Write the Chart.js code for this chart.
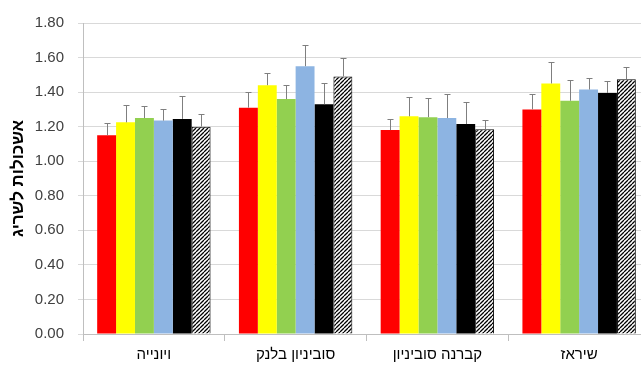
<!DOCTYPE html>
<html>
<head>
<meta charset="utf-8">
<script src="https://cdn.jsdelivr.net/npm/chart.js@4"></script>
<style>
html,body{margin:0;padding:0;background:#fff;overflow:hidden;width:641px;height:367px;}
</style>
</head>
<body>
<canvas id="c" width="650" height="367"></canvas>
<script>
const categories = ['ויונייה', 'סוביניון בלנק', 'קברנה סוביניון', 'שיראז'];
const yTicks = [0, 0.2, 0.4, 0.6, 0.8, 1.0, 1.2, 1.4, 1.6, 1.8];
const s1 = [1.15, 1.31, 1.18, 1.30];
const s2 = [1.225, 1.44, 1.26, 1.45];
const s3 = [1.25, 1.36, 1.255, 1.35];
const s4 = [1.235, 1.55, 1.25, 1.415];
const s5 = [1.245, 1.33, 1.215, 1.395];
const s6 = [1.20, 1.49, 1.185, 1.475];
const e1 = [0.07, 0.09, 0.065, 0.09];
const e2 = [0.10, 0.07, 0.11, 0.125];
const e3 = [0.07, 0.08, 0.11, 0.12];
const e4 = [0.065, 0.12, 0.14, 0.065];
const e5 = [0.13, 0.12, 0.125, 0.07];
const e6 = [0.075, 0.105, 0.055, 0.07];
const yTitle = 'אשכולות לשריג';

function hatch() {
  const n = 4;
  const p = document.createElement('canvas');
  p.width = n; p.height = n;
  const g = p.getContext('2d');
  g.fillStyle = '#fff'; g.fillRect(0, 0, n, n);
  g.strokeStyle = '#000'; g.lineWidth = 1.3;
  g.beginPath();
  for (let k = -n; k <= 2 * n; k += n) {
    g.moveTo(k, n); g.lineTo(k + n, 0);
  }
  g.stroke();
  return g.createPattern(p, 'repeat');
}

const ctx = document.getElementById('c').getContext('2d');
const hp = hatch();
const mk = (d, e, bg, bc, bw) => ({data: d, err: e, backgroundColor: bg, borderColor: bc, borderWidth: bw,
  categoryPercentage: 0.8, barPercentage: 1.0});

const errPlugin = {
  id: 'err',
  afterDatasetsDraw(chart) {
    const c = chart.ctx, ys = chart.scales.y;
    c.save();
    c.strokeStyle = '#7f7f7f';
    c.lineWidth = 1;
    chart.data.datasets.forEach((ds, i) => {
      const meta = chart.getDatasetMeta(i);
      meta.data.forEach((bar, j) => {
        const x = Math.round(bar.x) + 0.5;
        const top = Math.round(ys.getPixelForValue(ds.data[j] + ds.err[j])) + 0.5;
        c.beginPath();
        c.moveTo(x, bar.y); c.lineTo(x, top);
        c.moveTo(x - 3, top); c.lineTo(x + 3, top);
        c.stroke();
      });
    });
    c.restore();
  }
};

const F = "'Liberation Sans', Arial, sans-serif";
new Chart(ctx, {
  type: 'bar',
  data: {
    labels: categories,
    datasets: [
      mk(s1, e1, '#FF0000', '#FF0000', 0),
      mk(s2, e2, '#FFFF00', '#FFFF00', 0),
      mk(s3, e3, '#92D050', '#92D050', 0),
      mk(s4, e4, '#8DB4E2', '#8DB4E2', 0),
      mk(s5, e5, '#000000', '#000000', 0),
      mk(s6, e6, hp, '#000000', 1)
    ]
  },
  options: {
    responsive: false,
    animation: false,
    devicePixelRatio: 1,
    layout: {padding: {top: 22, right: 0, bottom: 0, left: 0}},
    plugins: {legend: {display: false}, tooltip: {enabled: false}},
    scales: {
      x: {
        grid: {display: true, drawOnChartArea: false, offset: true, tickLength: 7, color: '#bfbfbf'},
        border: {display: true, color: '#bfbfbf'},
        ticks: {color: '#000', font: {family: F, size: 15}, padding: 5},
        afterFit(s) { s.height = 33; }
      },
      y: {
        min: 0, max: 1.8,
        afterBuildTicks(s) { s.ticks = yTicks.map(v => ({value: v})); },
        grid: {color: '#d9d9d9', tickLength: 5, drawTicks: true},
        border: {display: true, color: '#bfbfbf'},
        ticks: {color: '#404040', font: {family: F, size: 15}, padding: 14,
          callback: v => Number(v).toFixed(2)},
        title: {display: true, text: yTitle, color: '#000', font: {family: F, size: 17, weight: 'bold'},
          padding: {top: 8, bottom: 0}},
        afterFit(s) { s.width = 83; }
      }
    }
  },
  plugins: [errPlugin]
});
</script>
</body>
</html>
